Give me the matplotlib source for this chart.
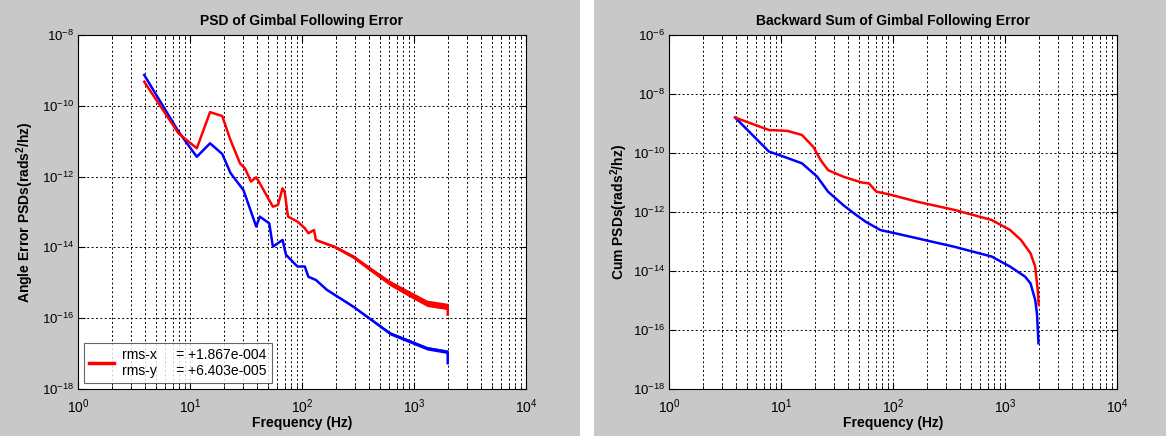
import numpy as np
import matplotlib
matplotlib.use('Agg')
import matplotlib.pyplot as plt
from matplotlib.patches import Rectangle
from matplotlib.ticker import LogLocator, FixedLocator, NullFormatter

plt.rcParams['font.family'] = ['Liberation Sans', 'DejaVu Sans']
plt.rcParams['mathtext.fontset'] = 'custom'
plt.rcParams['mathtext.rm'] = 'Liberation Sans'
plt.rcParams['mathtext.it'] = 'Liberation Sans:italic'
plt.rcParams['mathtext.bf'] = 'Liberation Sans:bold'

# ---------------- PSD (left) : frequency Hz, log10 of PSD ----------------
psd_x_f = [3.9, 7.9, 11.5, 15.1, 19.4, 23, 30, 39, 42, 51, 55, 67, 72, 91,
           106, 114, 133, 167, 286, 612, 1309, 2000, 2000]
psd_x_log = [-9.13, -10.73, -11.44, -11.06, -11.36, -11.9, -12.38, -13.41,
             -13.13, -13.32, -13.98, -13.79, -14.21, -14.54, -14.54, -14.83,
             -14.92, -15.2, -15.67, -16.43, -16.85, -16.95, -17.27]

psd_y_f = [3.9, 7.9, 11.5, 15.1, 19.4, 23, 28, 31, 35, 39, 42, 55, 61, 67,
           70, 75, 91, 102, 106, 114, 128, 133, 195, 286, 418, 612, 895,
           1309, 2000, 2000]
psd_y_log = [-9.32, -10.78, -11.2, -10.18, -10.29, -10.97, -11.63, -11.77,
             -12.14, -12.02, -12.19, -12.85, -12.8, -12.33, -12.43, -13.13,
             -13.27, -13.41, -13.46, -13.6, -13.51, -13.79, -13.98, -14.26,
             -14.64, -15.01, -15.3, -15.58, -15.67, -15.9]

# spread of the noisy high-frequency part (half width in decades), for the
# points of each curve from 133 Hz up to 2 kHz
spread_x = [0.01, 0.02, 0.03, 0.045, 0.05, 0.05]
spread_y = [0.02, 0.04, 0.055, 0.065, 0.075, 0.085, 0.09, 0.09]

# ---------------- backward sum (right) ----------------
cum_x_f = [3.9, 7.8, 10.5, 15.4, 21, 26.3, 35.8, 45, 57, 77, 104, 164, 354,
           760, 1110, 1510, 1690, 1860, 1930, 1990]
cum_x_log = [-8.8, -9.95, -10.12, -10.35, -10.8, -11.31, -11.76, -12.05,
             -12.33, -12.61, -12.72, -12.89, -13.18, -13.51, -13.85, -14.19,
             -14.42, -14.98, -15.44, -16.45]

cum_y_f = [3.9, 7.8, 11.4, 15.4, 19.4, 22.6, 26.3, 35.8, 52.5, 61, 71, 96.5,
           164, 354, 760, 1110, 1390, 1690, 1860, 1960, 2000]
cum_y_log = [-8.8, -9.22, -9.25, -9.39, -9.79, -10.24, -10.58, -10.8, -11.0,
             -11.03, -11.31, -11.42, -11.65, -11.93, -12.27, -12.61, -12.95,
             -13.4, -13.85, -14.64, -15.15]

legend_text = 'rms-x     = +1.867e-004\nrms-y     = +6.403e-005'

W, H = 1166, 436
fig = plt.figure(figsize=(W / 100, H / 100), dpi=100)
fig.patch.set_facecolor('white')
fig.patches.append(Rectangle((0, 0), 580 / W, 1, transform=fig.transFigure,
                             facecolor='#c8c8c8', edgecolor='none', zorder=-10))
fig.patches.append(Rectangle((594 / W, 0), 1 - 594 / W, 1, transform=fig.transFigure,
                             facecolor='#c8c8c8', edgecolor='none', zorder=-10))

ax1 = fig.add_axes([78 / W, 1 - 389 / H, 448 / W, 354 / H])
ax2 = fig.add_axes([669 / W, 1 - 389 / H, 448 / W, 354 / H])


def style(ax, ylo, yhi, title, ylabel, ylab_x):
    ax.set_xscale('log')
    ax.set_yscale('log')
    ax.set_xlim(1, 1e4)
    ax.set_ylim(10.0 ** ylo, 10.0 ** yhi)
    ax.xaxis.set_major_locator(LogLocator(base=10, numticks=10))
    ax.xaxis.set_minor_locator(LogLocator(base=10, subs=np.arange(2, 10), numticks=20))
    ax.xaxis.set_minor_formatter(NullFormatter())
    ax.yaxis.set_major_locator(FixedLocator([10.0 ** e for e in range(ylo, yhi + 1, 2)]))
    ax.yaxis.set_minor_locator(FixedLocator([]))
    ax.grid(True, which='major', ls=(0, (2, 2.5)), lw=0.7, c='k')
    ax.grid(True, which='minor', axis='x', ls=(0, (2, 2.5)), lw=0.7, c='k')
    ax.tick_params(which='both', direction='in', top=True, right=True,
                   labelsize=10, pad=3)
    ax.tick_params(axis='y', labelsize=9.5)
    ax.tick_params(axis='x', pad=6)
    ax.tick_params(which='major', length=5)
    ax.tick_params(which='minor', length=3)
    ax.set_title(title, fontsize=10, fontweight='bold', pad=7)
    ax.set_xlabel('Frequency (Hz)', fontsize=10, fontweight='bold')
    ax.xaxis.set_label_coords(0.5, -(416 - 389) / 354)
    ax.set_ylabel(ylabel, fontsize=10, fontweight='bold')
    ax.yaxis.set_label_coords(ylab_x, 0.5)
    for s in ax.spines.values():
        s.set_linewidth(0.8)


style(ax1, -18, -8, 'PSD of Gimbal Following Error',
      r'Angle Error PSDs(rads$^{\mathbf{2}}$/hz)', -(78 - 36) / 448)

# noisy band around the high-frequency end of each PSD curve
nx = len(spread_x)
fx = np.array(psd_x_f[-nx - 1:-1])
cx = np.array(psd_x_log[-nx - 1:-1])
ax1.fill_between(fx, 10.0 ** (cx - spread_x), 10.0 ** (cx + spread_x),
                 color='blue', lw=0)
ny = len(spread_y)
fy = np.array(psd_y_f[-ny - 1:-1])
cy = np.array(psd_y_log[-ny - 1:-1])
ax1.fill_between(fy, 10.0 ** (cy - spread_y), 10.0 ** (cy + spread_y),
                 color='red', lw=0)

ax1.plot(psd_x_f, 10.0 ** np.array(psd_x_log), color='blue', lw=1.8)
ax1.plot(psd_y_f, 10.0 ** np.array(psd_y_log), color='red', lw=1.8,
         label=legend_text)
leg = ax1.legend(loc='lower left', fontsize=10, frameon=True, fancybox=False,
                 borderaxespad=0.45, handlelength=1.8, handletextpad=0.6,
                 borderpad=0.35)
leg.get_frame().set_edgecolor('#404040')
leg.get_frame().set_linewidth(0.8)
leg.get_lines()[0].set_linewidth(2.5)

style(ax2, -18, -6, 'Backward Sum of Gimbal Following Error',
      r'Cum PSDs(rads$^{\mathbf{2}}$/hz)', -(669 - 630) / 448)
ax2.plot(cum_x_f, 10.0 ** np.array(cum_x_log), color='blue', lw=1.8)
ax2.plot(cum_y_f, 10.0 ** np.array(cum_y_log), color='red', lw=1.8)

fig.savefig('out.png', dpi=100, facecolor=fig.get_facecolor())
